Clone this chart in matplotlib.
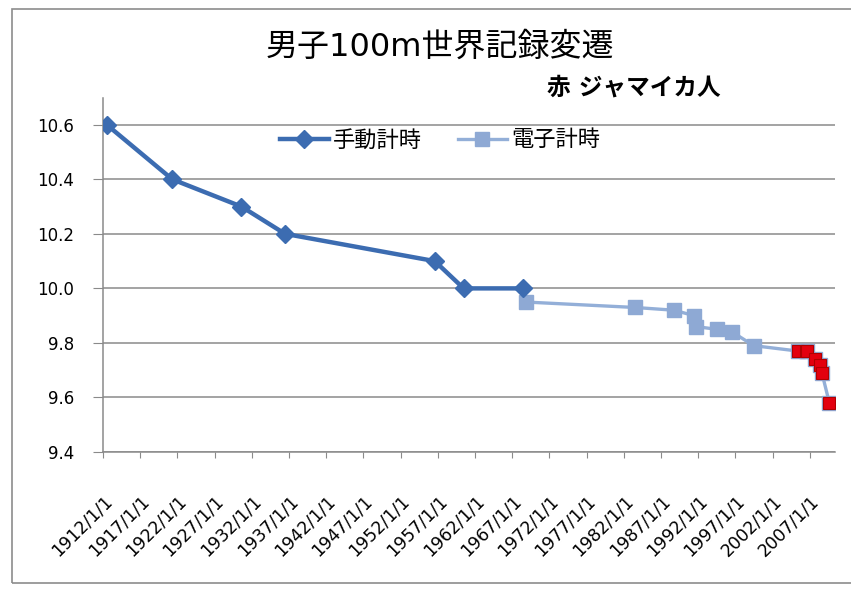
import numpy as np
import pandas as pd
import matplotlib
matplotlib.use("Agg")
import matplotlib.pyplot as plt
from matplotlib.patches import Rectangle
from matplotlib.transforms import ScaledTranslation

plt.rcParams['font.family'] = ['DejaVu Sans', 'Noto Sans CJK JP']

# 手動計時 (hand timing)
hand_dates = ['1912-07-06', '1921-04-23', '1930-08-09', '1936-06-20',
              '1956-08-03', '1960-06-21', '1968-06-20']
hand_times = [10.6, 10.4, 10.3, 10.2, 10.1, 10.0, 10.0]

# 電子計時 (electronic timing)
elec_dates = ['1968-10-14', '1983-07-03', '1988-09-24', '1991-06-14',
              '1991-08-25', '1994-07-06', '1996-07-27', '1999-06-16',
              '2005-06-14', '2006-06-11', '2006-08-18', '2007-09-09',
              '2008-05-31', '2008-08-16', '2009-08-16']
elec_times = [9.95, 9.93, 9.92, 9.90, 9.86, 9.85, 9.84, 9.79,
              9.77, 9.77, 9.77, 9.74, 9.72, 9.69, 9.58]
jamaican = [False] * 8 + [True] * 7

tick_years = list(range(1912, 2008, 5))
tick_labels = ["{0}/1/1".format(y) for y in tick_years]
y_ticks = [9.4, 9.6, 9.8, 10.0, 10.2, 10.4, 10.6]

hand_x = pd.to_datetime(hand_dates)
elec_x = pd.to_datetime(elec_dates)
jam = np.array(jamaican)

fig = plt.figure(figsize=(8.51, 5.89), dpi=100)
fig.patch.set_facecolor('white')

# chart area frame
fig.patches.append(Rectangle((12 / 851, 6 / 589), 1.2, 574 / 589, transform=fig.transFigure,
                             fill=False, edgecolor='#8c8c8c', linewidth=1.2))

ax = fig.add_axes([103 / 851, 137 / 589, 732 / 851, 354.5 / 589])

ax.plot(hand_x, hand_times, color='#3c6cb1', lw=3.2, marker='D', ms=9,
        mfc='#3c6cb1', mec='#3c6cb1', label='手動計時', zorder=4)
ax.plot(elec_x, elec_times, color='#93afd8', lw=2.4, marker='s', ms=10,
        mfc='#8ea9d4', mec='#8ea9d4', label='電子計時', zorder=3)
# Jamaican sprinters in red
ax.plot(elec_x[jam], np.array(elec_times)[jam], ls='none', marker='s', ms=8,
        mfc='#e3000f', mec='#b00000', mew=0.8, zorder=5)

ax.set_ylim(9.4, 10.7)
ax.set_yticks(y_ticks)
ax.set_yticklabels(['{0:.1f}'.format(v) for v in y_ticks], fontsize=12)
ax.set_xlim(pd.Timestamp('1912-01-01'), pd.Timestamp('2010-05-20'))
ax.set_xticks(pd.to_datetime(['{0}-01-01'.format(y) for y in tick_years]))
ax.set_xticklabels(tick_labels, fontsize=12.5, rotation=45, ha='right',
                   va='top', rotation_mode='anchor')
shift = ScaledTranslation(0.05, 0, fig.dpi_scale_trans)
for lab in ax.get_xticklabels():
    lab.set_transform(lab.get_transform() + shift)

ax.grid(axis='y', color='#8a8a8a', lw=1.1)
ax.set_axisbelow(True)
for s in ['top', 'right']:
    ax.spines[s].set_visible(False)
for s in ['left', 'bottom']:
    ax.spines[s].set_color('#8a8a8a')
    ax.spines[s].set_linewidth(1.1)
ax.tick_params(axis='y', length=7, color='#8a8a8a', pad=14)
ax.tick_params(axis='x', length=4, color='#8a8a8a', pad=25)

fig.text(440 / 851, 1 - 47 / 589, '男子100m世界記録変遷', ha='center', va='center',
         fontsize=23)
fig.text(634 / 851, 1 - 88 / 589, '赤 ジャマイカ人', ha='center', va='center',
         fontsize=17, fontweight='bold')

ax.legend(loc='center', bbox_to_anchor=(440 / 851, 1 - 140 / 589),
          bbox_transform=fig.transFigure, ncol=2, frameon=False, fontsize=16,
          handlelength=2.2, columnspacing=1.6, handletextpad=0.2)

fig.savefig('out.png', dpi=100)
